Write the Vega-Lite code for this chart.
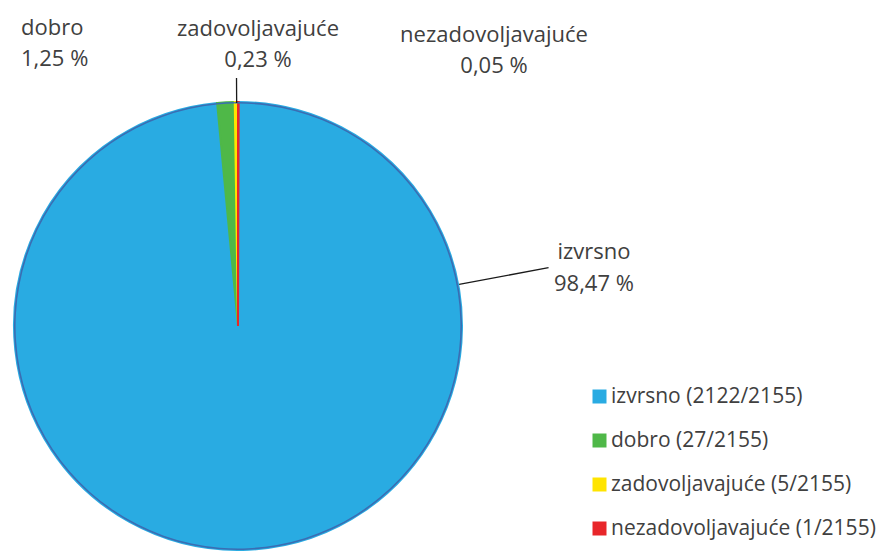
{
  "$schema": "https://vega.github.io/schema/vega-lite/v6.json",
  "width": 448,
  "height": 448,
  "autosize": {"type": "none"},
  "padding": {"left": 14, "top": 102, "right": 425, "bottom": 2},
  "background": "white",
  "config": {"view": {"stroke": null}},
  "data": {
    "values": [
      {"kategorija": "izvrsno", "n": 2122, "ukupno": 2155, "postotak": "98,47 %", "legenda": "izvrsno (2122/2155)"},
      {"kategorija": "dobro", "n": 27, "ukupno": 2155, "postotak": "1,25 %", "legenda": "dobro (27/2155)"},
      {"kategorija": "zadovoljavajuće", "n": 5, "ukupno": 2155, "postotak": "0,23 %", "legenda": "zadovoljavajuće (5/2155)"},
      {"kategorija": "nezadovoljavajuće", "n": 1, "ukupno": 2155, "postotak": "0,05 %", "legenda": "nezadovoljavajuće (1/2155)"}
    ]
  },
  "transform": [
    {"stack": "n", "groupby": [], "sort": [{"field": "n", "order": "descending"}], "as": ["poc", "kraj"]}
  ],
  "layer": [
    {
      "mark": {"type": "arc", "strokeWidth": 2},
      "encoding": {
        "theta": {"field": "poc", "type": "quantitative", "stack": null, "scale": {"nice": false, "zero": true}},
        "theta2": {"field": "kraj"},
        "color": {
          "field": "legenda", "type": "nominal", "sort": null,
          "scale": {
            "domain": ["izvrsno (2122/2155)", "dobro (27/2155)", "zadovoljavajuće (5/2155)", "nezadovoljavajuće (1/2155)"],
            "range": ["#29abe2", "#4fb848", "#ffe400", "#e8262a"]
          },
          "legend": {
            "title": null, "orient": "none", "legendX": 575, "legendY": 284,
            "symbolType": "square", "symbolSize": 196, "symbolStrokeWidth": 0,
            "labelFont": "Open Sans", "labelFontSize": 21, "labelColor": "#404040",
            "labelOffset": 1, "labelLimit": 400, "rowPadding": 22, "padding": 0
          }
        },
        "stroke": {
          "field": "legenda", "type": "nominal", "legend": null,
          "scale": {
            "domain": ["izvrsno (2122/2155)", "dobro (27/2155)", "zadovoljavajuće (5/2155)", "nezadovoljavajuće (1/2155)"],
            "range": ["#29abe2", "#4fb848", "#ffe400", "#e8262a"]
          }
        }
      }
    },
    {
      "mark": {"type": "arc", "innerRadius": 222.4, "outerRadius": 224, "color": "#3a6db3"},
      "encoding": {
        "theta": {"field": "poc", "type": "quantitative", "stack": null},
        "theta2": {"field": "kraj"}
      }
    },
    {
      "transform": [{"filter": "datum.kategorija === 'zadovoljavajuće'"}],
      "mark": {"type": "arc", "theta": -0.006, "theta2": -0.006, "innerRadius": 223, "outerRadius": 248, "fill": null, "stroke": "#1a1a1a", "strokeWidth": 1.3},
      "encoding": {}
    },
    {
      "transform": [{"filter": "datum.kategorija === 'izvrsno'"}],
      "mark": {"type": "arc", "theta": 1.385, "theta2": 1.385, "innerRadius": 225, "outerRadius": 316, "fill": null, "stroke": "#1a1a1a", "strokeWidth": 1.3},
      "encoding": {}
    },
    {
      "transform": [{"filter": "datum.kategorija === 'dobro'"}],
      "mark": {"type": "text", "theta": -0.6407, "radius": 363, "align": "left", "baseline": "alphabetic", "font": "Open Sans", "fontSize": 22, "fill": "#404040"},
      "encoding": {"text": {"field": "kategorija"}}
    },
    {
      "transform": [{"filter": "datum.kategorija === 'dobro'"}],
      "mark": {"type": "text", "theta": -0.6407, "radius": 363, "dy": 31, "align": "left", "baseline": "alphabetic", "font": "Open Sans", "fontSize": 22, "fill": "#404040"},
      "encoding": {"text": {"field": "postotak"}}
    },
    {
      "transform": [{"filter": "datum.kategorija === 'zadovoljavajuće'"}],
      "mark": {"type": "text", "theta": 0.0689, "radius": 290.7, "align": "center", "baseline": "alphabetic", "font": "Open Sans", "fontSize": 22, "fill": "#404040"},
      "encoding": {"text": {"field": "kategorija"}}
    },
    {
      "transform": [{"filter": "datum.kategorija === 'zadovoljavajuće'"}],
      "mark": {"type": "text", "theta": 0.0689, "radius": 290.7, "dy": 31, "align": "center", "baseline": "alphabetic", "font": "Open Sans", "fontSize": 22, "fill": "#404040"},
      "encoding": {"text": {"field": "postotak"}}
    },
    {
      "transform": [{"filter": "datum.kategorija === 'nezadovoljavajuće'"}],
      "mark": {"type": "text", "theta": 0.7336, "radius": 382.3, "align": "center", "baseline": "alphabetic", "font": "Open Sans", "fontSize": 22, "fill": "#404040"},
      "encoding": {"text": {"field": "kategorija"}}
    },
    {
      "transform": [{"filter": "datum.kategorija === 'nezadovoljavajuće'"}],
      "mark": {"type": "text", "theta": 0.7336, "radius": 382.3, "dy": 31, "align": "center", "baseline": "alphabetic", "font": "Open Sans", "fontSize": 22, "fill": "#404040"},
      "encoding": {"text": {"field": "postotak"}}
    },
    {
      "transform": [{"filter": "datum.kategorija === 'izvrsno'"}],
      "mark": {"type": "text", "theta": 1.3848, "radius": 362.2, "align": "center", "baseline": "alphabetic", "font": "Open Sans", "fontSize": 22, "fill": "#404040"},
      "encoding": {"text": {"field": "kategorija"}}
    },
    {
      "transform": [{"filter": "datum.kategorija === 'izvrsno'"}],
      "mark": {"type": "text", "theta": 1.3848, "radius": 362.2, "dy": 32, "align": "center", "baseline": "alphabetic", "font": "Open Sans", "fontSize": 22, "fill": "#404040"},
      "encoding": {"text": {"field": "postotak"}}
    }
  ]
}
